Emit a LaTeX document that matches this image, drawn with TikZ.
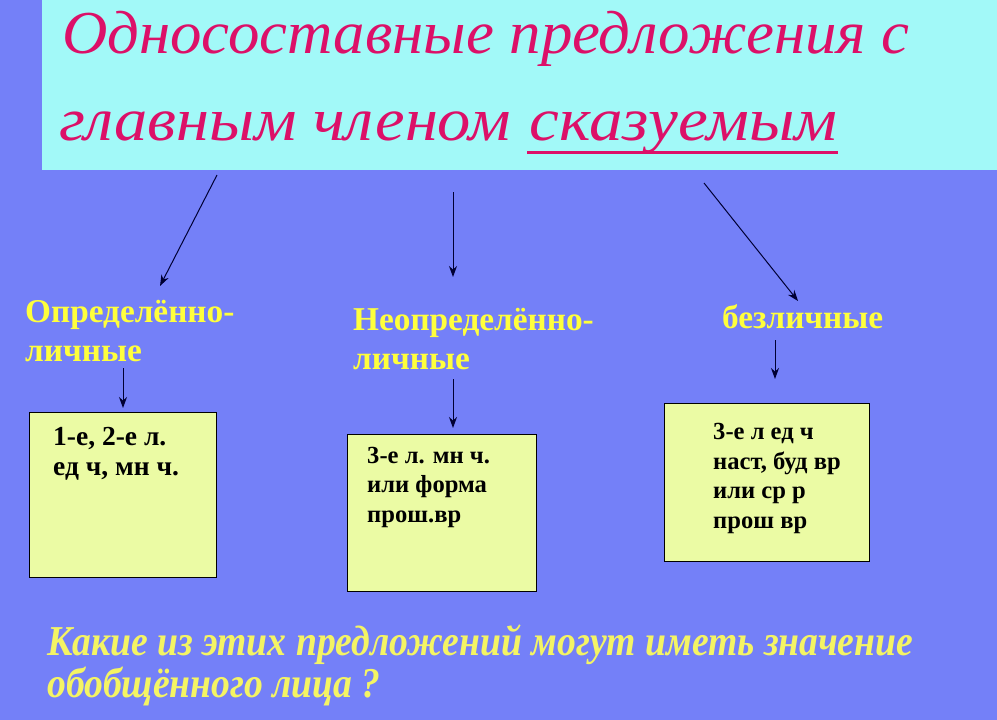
\documentclass[tikz,border=0pt]{standalone}
\usepackage{fontspec}
\setmainfont{Liberation Serif}
\usetikzlibrary{arrows.meta,calc}
\definecolor{bg}{HTML}{7480F8}
\definecolor{titlebg}{HTML}{A2F9F8}
\definecolor{titlefg}{HTML}{DC1068}
\definecolor{lab}{HTML}{FFFF3C}
\definecolor{qfg}{HTML}{F4F464}
\definecolor{boxfill}{HTML}{EBFBA4}
\definecolor{arr}{HTML}{000033}
\begin{document}
\begin{tikzpicture}[x=1pt,y=-1pt,
  titletext/.style={text=titlefg, font=\itshape\fontsize{61}{70}\selectfont, inner sep=0, anchor=base west},
  catlabel/.style={text=lab, font=\bfseries\fontsize{33.3}{39}\selectfont, inner sep=0, anchor=base west, align=left},
  infobox/.style={draw=black, line width=1pt, fill=boxfill, inner sep=0, anchor=north west},
  boxtext/.style={font=\bfseries\fontsize{24.6}{29.5}\selectfont, inner sep=0, anchor=base west, align=left},
  conn/.style={draw=arr, line width=1pt, -{Stealth[length=11pt,width=8pt]}},
  question/.style={text=qfg, font=\bfseries\itshape\fontsize{38}{48}\selectfont, inner sep=0, anchor=base west}]

\useasboundingbox (0,0) rectangle (997,720);
\fill[bg] (0,0) rectangle (997,720);
\fill[titlebg] (42,0) rectangle (997,170);

% title
\node[titletext] (t1) at (62,53) {\scalebox{1.03}[1]{Односоставные предложения с}};
\node[titletext] (t2) at (59,140) {\scalebox{1.09}[1]{главным членом}};
\node[titletext] (t3) at ($(t2.base east)+(18,0)$) {\scalebox{1.1}[1]{сказуемым}};
\draw[titlefg, line width=3pt] ($(t3.base west)+(-2,12)$) -- ($(t3.base east)+(0,12)$);

% category labels (base = last line)
\node[catlabel] (c1) at (25,361) {Определённо-\\личные};
\node[catlabel] (c2) at (353,369) {Неопределённо-\\личные};
\node[catlabel] (c3) at (722,328) {безличные};

% boxes
\node[infobox, minimum width=187pt, minimum height=165pt] (b1) at (29,412) {};
\node[infobox, minimum width=189pt, minimum height=157pt] (b2) at (347,434) {};
\node[infobox, minimum width=205pt, minimum height=158pt] (b3) at (664,403) {};

\node[boxtext, font=\bfseries\fontsize{27.5}{30}\selectfont] (bt1) at (53,475) {1-е, 2-е л.\\ед ч, мн ч.};
\node[boxtext] (bt2) at (367,522) {3-е л. мн ч.\\или форма\\прош.вр};
\node[boxtext] (bt3) at (713,528) {3-е л ед ч\\наст, буд вр\\или ср р\\прош вр};

% connectors
\coordinate (s1) at (217,175);
\coordinate (e1) at (160,286);
\coordinate (s2) at (453,192);
\coordinate (e2) at (453,277);
\coordinate (s3) at (704,183);
\coordinate (e3) at (798,301);
\coordinate (s4) at (123,368);
\coordinate (s5) at (453,379);
\coordinate (s6) at (775,340);
\draw[conn] (s1) -- (e1);
\draw[conn] (s2) -- (e2);
\draw[conn] (s3) -- (e3);
\draw[conn, shorten >=4pt] (s4) -- (s4 |- b1.north);
\draw[conn, shorten >=6pt] (s5) -- (s5 |- b2.north);
\draw[conn, shorten >=24pt] (s6) -- (s6 |- b3.north);

% question
\node[question] (q1) at (47,655) {\scalebox{0.99}[1.12]{Какие из этих предложений могут иметь значение}};
\node[question] (q2) at (47,697) {\scalebox{0.99}[1.12]{обобщённого лица ?}};
\end{tikzpicture}
\end{document}
